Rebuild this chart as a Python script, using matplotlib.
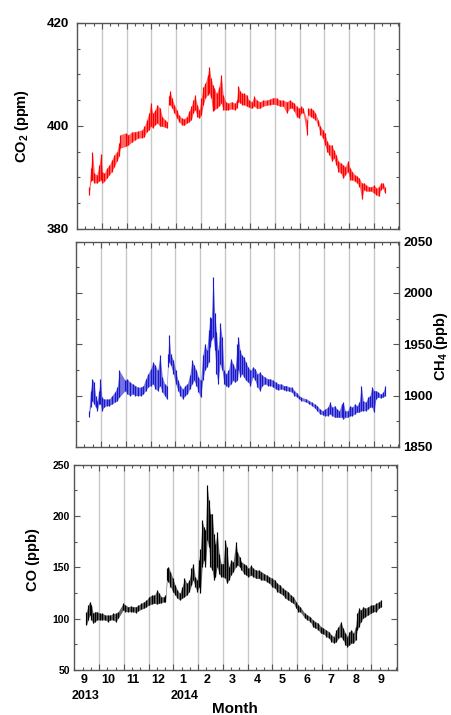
import numpy as np
import matplotlib
matplotlib.use("Agg")
import matplotlib.pyplot as plt
from matplotlib.ticker import MultipleLocator, FixedLocator

plt.rcParams['font.family'] = 'Liberation Sans'
plt.rcParams['font.weight'] = 'bold'
plt.rcParams['mathtext.fontset'] = 'custom'
plt.rcParams['mathtext.rm'] = 'Liberation Sans:bold'
plt.rcParams['mathtext.bf'] = 'Liberation Sans:bold'
plt.rcParams['mathtext.it'] = 'Liberation Sans:bold'

# month axis: 0 = Sep 2013 ... 12 = Sep 2014
month_labels = ['9', '10', '11', '12', '1', '2', '3', '4', '5', '6', '7', '8', '9']
year_labels = ['2013', '2014']

# CO2 (ppm), upper / lower edge of the scatter band
co2_month = [0.107, 0.174, 0.241, 0.322, 0.416, 0.511, 0.578, 0.645, 0.726, 0.820,
             0.928, 1.022, 1.130, 1.224, 1.319, 1.373, 1.588, 1.696, 1.831, 1.965,
             2.100, 2.235, 2.342, 2.437, 2.531, 2.598, 2.679, 2.773, 2.868, 2.975,
             3.070, 3.177, 3.272, 3.325, 3.379, 3.460, 3.554, 3.649, 3.743, 3.851,
             3.958, 4.053, 4.147, 4.241, 4.322, 4.389, 4.484, 4.565, 4.645, 4.726,
             4.807, 4.901, 4.969, 5.036, 5.103, 5.171, 5.265, 5.359, 5.453, 5.534,
             5.629, 5.736, 5.871, 6.006, 6.073, 6.141, 6.221, 6.302, 6.383, 6.477,
             6.572, 6.679, 6.787, 6.881, 7.016, 7.151, 7.285, 7.420, 7.555, 7.689,
             7.824, 7.959, 8.094, 8.228, 8.323, 8.403, 8.498, 8.592, 8.700, 8.767,
             8.915, 8.969, 9.077, 9.171, 9.265, 9.373, 9.467, 9.562, 9.642, 9.737,
             9.831, 9.925, 10.006, 10.100, 10.195, 10.289, 10.383, 10.477, 10.572, 10.666,
             10.760, 10.855, 10.949, 11.043, 11.137, 11.232, 11.326, 11.420, 11.528, 11.636,
             11.730, 11.824, 11.905, 11.986, 12.067]
co2_hi = [388.2, 391.8, 394.9, 390.8, 390.5, 392.4, 394.5, 391.1, 390.8, 391.8,
          392.4, 393.4, 394.4, 395.0, 396.6, 398.3, 398.6, 398.3, 398.8, 398.9,
          399.0, 399.2, 399.9, 401.2, 402.5, 404.4, 402.5, 403.1, 404.1, 403.4,
          401.8, 401.2, 400.8, 405.7, 406.8, 405.4, 404.1, 403.1, 402.1, 401.5,
          401.4, 401.8, 402.8, 403.8, 405.0, 405.9, 404.1, 403.1, 405.4, 407.6,
          408.3, 409.9, 411.5, 409.3, 408.0, 407.3, 406.3, 407.6, 409.9, 406.0,
          404.7, 404.4, 404.7, 404.4, 405.0, 407.8, 406.7, 406.3, 406.3, 406.0,
          405.0, 404.7, 405.7, 405.0, 404.7, 405.0, 405.0, 405.2, 405.5, 405.4,
          405.0, 405.0, 404.7, 405.0, 404.7, 404.4, 403.8, 403.4, 403.8, 403.4,
          401.2, 403.4, 403.4, 403.1, 402.5, 401.2, 399.9, 399.2, 398.6, 397.0,
          396.3, 396.3, 395.3, 394.4, 393.1, 392.8, 392.4, 392.1, 393.2, 391.8,
          391.1, 390.5, 390.2, 389.8, 388.9, 388.9, 388.5, 388.2, 388.2, 388.5,
          387.9, 388.2, 388.9, 388.9, 388.2]
co2_lo = [386.5, 389.2, 389.5, 388.9, 388.9, 389.2, 389.5, 388.9, 389.2, 389.8,
          390.5, 391.1, 392.1, 393.1, 394.1, 395.7, 396.0, 396.3, 396.8, 397.3,
          397.6, 397.7, 397.9, 398.9, 399.2, 399.9, 399.6, 400.2, 400.5, 399.9,
          399.9, 399.7, 399.6, 404.1, 404.1, 403.4, 402.5, 401.5, 400.8, 400.2,
          400.1, 400.5, 400.8, 401.2, 402.5, 403.1, 401.8, 401.5, 402.1, 404.1,
          405.4, 406.0, 406.3, 405.4, 402.8, 403.1, 403.4, 403.8, 404.4, 403.1,
          403.1, 403.1, 403.3, 403.1, 403.4, 404.7, 404.4, 404.1, 404.1, 403.8,
          403.6, 403.4, 403.8, 403.4, 403.4, 403.8, 404.0, 404.1, 404.2, 404.1,
          403.8, 403.8, 402.5, 403.4, 403.4, 402.8, 401.8, 401.5, 402.5, 402.5,
          398.3, 402.1, 401.8, 401.5, 401.2, 399.9, 398.3, 397.6, 396.3, 395.0,
          394.4, 393.1, 393.7, 392.4, 391.1, 390.8, 389.8, 390.5, 391.1, 389.5,
          389.5, 389.2, 388.9, 388.2, 385.8, 387.6, 387.3, 387.3, 387.3, 386.9,
          386.6, 386.3, 387.6, 387.9, 386.9]

# CH4 (ppb)
ch4_month = [0.133, 0.200, 0.267, 0.335, 0.402, 0.469, 0.537, 0.591, 0.658, 0.739,
             0.847, 0.954, 1.062, 1.170, 1.277, 1.358, 1.601, 1.682, 1.789, 1.897,
             2.005, 2.112, 2.220, 2.328, 2.422, 2.517, 2.624, 2.719, 2.813, 2.907,
             3.001, 3.096, 3.190, 3.271, 3.325, 3.365, 3.432, 3.540, 3.634, 3.729,
             3.823, 3.917, 4.011, 4.106, 4.200, 4.294, 4.375, 4.469, 4.550, 4.644,
             4.725, 4.806, 4.887, 4.968, 5.022, 5.075, 5.143, 5.210, 5.277, 5.345,
             5.426, 5.506, 5.587, 5.668, 5.762, 5.857, 5.951, 6.032, 6.125, 6.166,
             6.233, 6.300, 6.381, 6.462, 6.556, 6.651, 6.745, 6.839, 6.933, 7.028,
             7.135, 7.243, 7.351, 7.459, 7.566, 7.674, 7.782, 7.890, 7.997, 8.105,
             8.213, 8.321, 8.428, 8.536, 8.617, 8.698, 8.913, 9.021, 9.129, 9.236,
             9.344, 9.452, 9.560, 9.667, 9.762, 9.856, 9.950, 10.045, 10.139, 10.233,
             10.327, 10.395, 10.476, 10.570, 10.664, 10.758, 10.853, 10.947, 11.041, 11.122,
             11.203, 11.297, 11.391, 11.472, 11.553, 11.634, 11.715, 11.809, 11.903, 11.997,
             12.092]
ch4_hi = [1885.3, 1904.9, 1916.3, 1913.1, 1900.0, 1895.1, 1904.9, 1916.3, 1898.4, 1896.7,
          1896.7, 1896.7, 1900.0, 1903.2, 1908.2, 1924.5, 1914.7, 1916.3, 1913.1, 1911.4,
          1909.8, 1908.2, 1908.2, 1909.8, 1916.3, 1921.2, 1926.1, 1932.7, 1929.4, 1924.5,
          1939.2, 1918.0, 1911.4, 1909.8, 1940.9, 1958.8, 1940.9, 1934.3, 1924.5, 1914.7,
          1909.8, 1906.5, 1909.8, 1911.4, 1919.6, 1934.3, 1929.4, 1924.5, 1918.0, 1914.7,
          1939.2, 1950.7, 1944.1, 1963.7, 1976.8, 1975.2, 2016.0, 1980.1, 1962.1, 1944.1,
          1970.3, 1957.2, 1924.5, 1921.2, 1924.5, 1935.9, 1931.0, 1926.1, 1950.7, 1957.2,
          1944.1, 1939.2, 1937.6, 1932.7, 1927.8, 1924.5, 1927.8, 1926.1, 1921.2, 1922.9,
          1919.6, 1918.0, 1916.3, 1916.3, 1914.7, 1913.1, 1911.4, 1911.4, 1909.8, 1909.8,
          1908.2, 1908.2, 1904.9, 1902.3, 1900.0, 1898.4, 1896.7, 1895.1, 1893.5, 1891.8,
          1890.2, 1886.9, 1885.3, 1886.9, 1888.6, 1893.5, 1888.6, 1890.2, 1886.9, 1885.3,
          1891.8, 1893.5, 1885.3, 1885.3, 1890.2, 1888.6, 1891.8, 1890.2, 1893.5, 1909.8,
          1895.1, 1893.5, 1898.4, 1900.0, 1908.2, 1904.9, 1904.9, 1903.2, 1901.6, 1903.2,
          1909.8]
ch4_lo = [1878.8, 1888.6, 1895.1, 1891.8, 1888.6, 1885.3, 1891.8, 1891.8, 1885.3, 1888.6,
          1890.2, 1890.2, 1891.8, 1893.5, 1895.1, 1898.4, 1904.9, 1901.6, 1900.0, 1901.6,
          1900.0, 1900.0, 1900.0, 1901.6, 1904.9, 1908.2, 1909.8, 1911.4, 1906.5, 1904.9,
          1909.8, 1903.2, 1900.0, 1896.7, 1927.8, 1932.7, 1929.4, 1921.2, 1911.4, 1904.9,
          1900.0, 1896.7, 1900.0, 1901.6, 1906.5, 1911.4, 1914.7, 1909.8, 1903.2, 1898.4,
          1914.7, 1924.5, 1927.8, 1932.7, 1947.4, 1953.9, 1957.2, 1944.1, 1921.2, 1911.4,
          1931.0, 1924.5, 1911.4, 1909.8, 1908.2, 1911.4, 1914.7, 1913.1, 1914.7, 1924.5,
          1918.0, 1921.2, 1918.0, 1914.7, 1913.1, 1909.8, 1918.0, 1914.7, 1908.2, 1904.9,
          1909.8, 1911.4, 1909.8, 1909.8, 1908.2, 1906.5, 1905.5, 1906.5, 1905.5, 1904.9,
          1904.3, 1903.2, 1900.0, 1898.4, 1896.7, 1895.1, 1893.5, 1891.8, 1890.2, 1887.9,
          1885.3, 1882.0, 1881.4, 1880.4, 1880.4, 1882.0, 1880.4, 1878.8, 1878.8, 1878.8,
          1878.8, 1877.1, 1878.8, 1878.8, 1880.4, 1880.4, 1882.0, 1883.7, 1883.7, 1885.3,
          1885.3, 1885.3, 1886.9, 1888.6, 1888.6, 1883.7, 1896.7, 1898.4, 1897.7, 1898.4,
          1900.0]

# CO (ppb)
co_month = [0.109, 0.177, 0.244, 0.311, 0.379, 0.446, 0.540, 0.648, 0.756, 0.864,
            0.971, 1.079, 1.187, 1.295, 1.389, 1.591, 1.685, 1.793, 1.901, 1.995,
            2.103, 2.210, 2.318, 2.426, 2.534, 2.641, 2.749, 2.857, 2.965, 3.045,
            3.140, 3.234, 3.301, 3.369, 3.422, 3.503, 3.598, 3.692, 3.786, 3.880,
            3.975, 4.069, 4.163, 4.258, 4.352, 4.419, 4.500, 4.581, 4.648, 4.715,
            4.783, 4.850, 4.917, 4.985, 5.052, 5.119, 5.187, 5.254, 5.321, 5.389,
            5.470, 5.550, 5.631, 5.712, 5.779, 5.860, 5.941, 6.035, 6.143, 6.211,
            6.292, 6.372, 6.467, 6.561, 6.655, 6.749, 6.857, 6.965, 7.073, 7.180,
            7.288, 7.396, 7.504, 7.611, 7.719, 7.827, 7.935, 8.042, 8.150, 8.258,
            8.366, 8.473, 8.581, 8.662, 8.743, 8.931, 9.039, 9.147, 9.255, 9.362,
            9.470, 9.578, 9.686, 9.793, 9.901, 10.009, 10.103, 10.197, 10.292, 10.386,
            10.480, 10.574, 10.655, 10.736, 10.817, 10.898, 10.979, 11.046, 11.113, 11.194,
            11.288, 11.383, 11.490, 11.598, 11.706, 11.814, 11.921, 12.029]
co_hi = [106.8, 113.3, 116.5, 113.3, 105.2, 106.8, 106.8, 105.2, 105.2, 103.6,
         103.6, 103.6, 105.2, 105.2, 106.8, 114.9, 113.3, 111.7, 112.3, 111.7,
         111.7, 113.3, 114.9, 116.5, 118.2, 121.4, 123.0, 123.0, 127.9, 124.6,
         121.4, 121.4, 123.0, 148.9, 150.5, 145.7, 139.2, 132.7, 127.9, 124.6,
         131.1, 139.2, 134.3, 137.6, 148.9, 153.7, 140.8, 137.6, 157.0, 168.3,
         195.8, 189.4, 186.1, 229.8, 215.2, 202.3, 202.3, 182.9, 173.2, 184.5,
         163.5, 153.7, 153.7, 176.4, 169.9, 150.5, 157.0, 155.4, 174.8, 165.1,
         160.2, 155.4, 153.7, 152.1, 148.9, 152.1, 148.9, 147.3, 147.3, 145.7,
         144.0, 142.4, 140.8, 139.2, 137.6, 134.3, 132.7, 129.5, 127.9, 126.2,
         123.0, 121.4, 116.5, 113.3, 111.7, 105.2, 103.6, 102.0, 98.8, 97.1,
         95.5, 92.3, 90.7, 89.0, 87.4, 84.2, 82.6, 89.0, 92.3, 97.1,
         90.7, 85.8, 82.6, 87.4, 89.0, 85.8, 92.3, 105.2, 110.1, 108.5,
         111.7, 110.1, 111.7, 113.3, 113.3, 114.9, 116.5, 118.2]
co_lo = [93.9, 98.8, 103.6, 98.8, 95.5, 97.1, 98.8, 98.8, 98.8, 98.8,
         97.1, 98.8, 98.8, 97.1, 100.4, 108.5, 106.8, 106.8, 106.8, 106.8,
         105.9, 107.8, 109.1, 110.1, 111.7, 113.3, 114.3, 114.9, 114.3, 114.9,
         115.6, 116.5, 116.5, 137.6, 136.0, 131.1, 126.2, 123.0, 119.8, 118.2,
         119.8, 121.4, 123.0, 126.2, 132.7, 137.6, 131.1, 126.2, 131.1, 124.6,
         150.5, 157.0, 150.5, 176.4, 169.9, 150.5, 147.3, 137.6, 140.8, 150.5,
         144.0, 140.8, 140.8, 139.2, 134.3, 137.6, 142.4, 145.7, 150.5, 152.1,
         150.5, 147.3, 144.0, 142.4, 140.8, 142.4, 140.8, 139.2, 139.2, 137.6,
         137.6, 136.0, 134.3, 131.1, 129.5, 126.2, 124.6, 123.0, 119.8, 118.2,
         116.5, 114.9, 110.1, 106.8, 106.8, 100.4, 98.8, 97.1, 92.3, 90.7,
         89.0, 85.8, 85.2, 82.6, 80.9, 77.7, 76.1, 77.7, 80.9, 82.6,
         79.3, 74.5, 72.8, 74.5, 76.1, 76.1, 79.3, 89.0, 92.3, 97.1,
         100.4, 102.0, 103.6, 105.2, 106.8, 106.8, 110.1, 111.7]

# month boundaries (grey lines) sit a bit right of each label
grid_pos = np.arange(12) + 0.62
minor_pos = np.arange(-0.38, 12.7, 1 / 3.)

fig = plt.figure(figsize=(4.52, 7.15), dpi=100)
ax1 = fig.add_axes([0.170, 0.680, 0.713, 0.288])
ax2 = fig.add_axes([0.168, 0.375, 0.715, 0.287])
ax3 = fig.add_axes([0.164, 0.063, 0.714, 0.287])


def style(ax):
    ax.set_xlim(-0.39, 12.65)
    ax.set_xticks(grid_pos)
    ax.set_xticklabels([])
    ax.xaxis.set_minor_locator(FixedLocator(minor_pos))
    ax.grid(axis='x', which='major', color='#c8c8c8', lw=1.0, zorder=0)
    ax.set_axisbelow(True)
    ax.tick_params(which='both', direction='in', top=True, right=True,
                   color='#555555', width=0.8)
    ax.tick_params(which='major', length=4)
    ax.tick_params(which='minor', length=2.5)
    for s in ax.spines.values():
        s.set_color('#555555')
        s.set_linewidth(1.0)


def band(ax, x, lo, hi, c):
    # speckled band: light fill plus a short vertical stroke per sample
    ax.fill_between(x, lo, hi, color=c, lw=0, alpha=0.6)
    ax.vlines(x, lo, hi, color=c, lw=0.85)


for ax in (ax1, ax2, ax3):
    style(ax)

band(ax1, co2_month, co2_lo, co2_hi, '#ff0000')
ax1.set_ylim(380, 420)
ax1.set_yticks([380, 400, 420])
ax1.yaxis.set_minor_locator(MultipleLocator(5))
ax1.tick_params(axis='y', labelsize=9.5, pad=6)

band(ax2, ch4_month, ch4_lo, ch4_hi, '#1a1acc')
ax2.set_ylim(1850, 2050)
ax2.yaxis.set_major_locator(MultipleLocator(50))
ax2.yaxis.set_minor_locator(MultipleLocator(25))
ax2.tick_params(axis='y', labelleft=False, labelright=True, labelsize=9.5, pad=3)

band(ax3, co_month, co_lo, co_hi, '#000000')
ax3.set_ylim(50, 250)
ax3.yaxis.set_major_locator(MultipleLocator(50))
ax3.yaxis.set_minor_locator(MultipleLocator(25))
ax3.tick_params(axis='y', labelsize=7.5, pad=3)

tr = ax3.get_xaxis_transform()
for k, lab in enumerate(month_labels):
    ax3.text(k, -0.05, lab, transform=tr, ha='center', va='center', fontsize=9)
for k, lab in zip([0, 4], year_labels):
    ax3.text(k + 0.08, -0.128, lab, transform=tr, ha='center', va='center', fontsize=9)
ax3.text(6.1, -0.188, 'Month', transform=tr, ha='center', va='center', fontsize=11)

fig.text(22 / 452, 1 - 126 / 715, 'CO$_2$ (ppm)', rotation=90, ha='center',
         va='center', fontsize=10.5)
fig.text(441 / 452, 1 - 346 / 715, 'CH$_4$ (ppb)', rotation=90, ha='center',
         va='center', fontsize=10.5)
fig.text(33 / 452, 1 - 560 / 715, 'CO (ppb)', rotation=90, ha='center',
         va='center', fontsize=10.5)

fig.savefig('out.png', dpi=100)
